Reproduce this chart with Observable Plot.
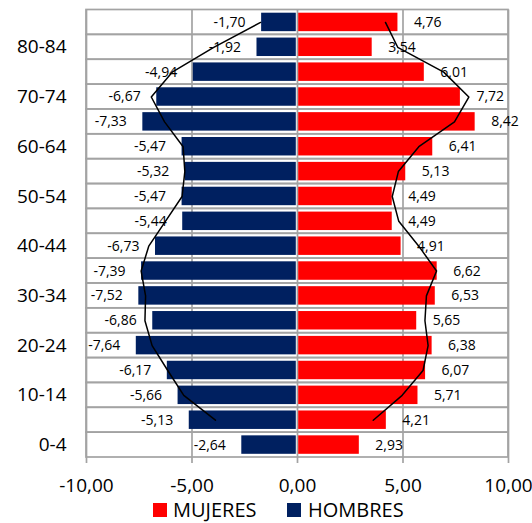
<!DOCTYPE html>
<html>
<head>
<meta charset="utf-8">
<script src="https://cdn.jsdelivr.net/npm/d3@7"></script>
<script src="https://cdn.jsdelivr.net/npm/@observablehq/plot@0.6"></script>
<style>
  body { margin: 0; background: #fff; font-family: "Open Sans", sans-serif; }
  #wrap { position: relative; width: 532px; height: 523px; overflow: hidden; }
  #wrap svg { display: block; }
  .leg { position: absolute; top: 499.5px; font-size: 20px; color: #000; line-height: 20px; white-space: nowrap; }
  .sw { position: absolute; top: 503px; width: 14px; height: 14px; }
</style>
</head>
<body>
<div id="wrap"></div>
<script>
// Age groups, youngest first
const ages = ["0-4","5-9","10-14","15-19","20-24","25-29","30-34","35-39","40-44","45-49","50-54","55-59","60-64","65-69","70-74","75-79","80-84","85+"];
// Bars (%)
const hombres = [-2.64,-5.13,-5.66,-6.17,-7.64,-6.86,-7.52,-7.39,-6.73,-5.44,-5.47,-5.32,-5.47,-7.33,-6.67,-4.94,-1.92,-1.70];
const mujeres = [2.93,4.21,5.71,6.07,6.38,5.65,6.53,6.62,4.91,4.49,4.49,5.13,6.41,8.42,7.72,6.01,3.54,4.76];
// Comparison outline lines (estimated), 5-9 .. 85+
const lineAges = ["5-9","10-14","15-19","20-24","25-29","30-34","35-39","40-44","45-49","50-54","55-59","60-64","65-69","70-74","75-79","80-84","85+"];
const hombresLinea = [-3.89,-5.39,-6.15,-6.89,-7.23,-7.20,-7.41,-7.05,-6.26,-5.47,-5.34,-5.42,-6.30,-6.93,-5.94,-3.97,-1.75];
const mujeresLinea = [3.59,4.96,5.95,6.19,6.04,6.11,6.59,5.75,4.80,4.49,4.78,5.75,7.44,8.12,6.93,4.75,4.17];
const xTicks = [-10,-5,0,5,10];
const yTickLabels = ["0-4","10-14","20-24","30-34","40-44","50-54","60-64","70-74","80-84"];

const fmt = v => (v < 0 ? "-" : "") + Math.abs(v).toFixed(2).replace(".", ",");

const hData = ages.map((a, i) => ({age: a, v: hombres[i]}));
const mData = ages.map((a, i) => ({age: a, v: mujeres[i]}));
const hLine = lineAges.map((a, i) => ({age: a, v: hombresLinea[i]}));
const mLine = lineAges.map((a, i) => ({age: a, v: mujeresLinea[i]}));

const grid = "#a3a3a3";
const chart = Plot.plot({
  width: 532,
  height: 500,
  marginLeft: 86,
  marginRight: 24,
  marginTop: 9.5,
  marginBottom: 43,
  style: {fontFamily: "Open Sans", color: "#000", background: "#fff", overflow: "visible"},
  x: {domain: [-10, 10]},
  y: {domain: ages.slice().reverse(), padding: 0, round: false},
  marks: [
    Plot.barX(ages, {x1: -10, x2: 10, y: d => d, fill: "none", stroke: grid, strokeWidth: 1.7}),
    Plot.ruleX(xTicks, {stroke: grid, strokeWidth: 1.7, insetBottom: -6}),
    Plot.barX(hData, {x: "v", y: "age", fill: "#002060", insetTop: 3.2, insetBottom: 3.2, insetRight: 1.2}),
    Plot.barX(mData, {x: "v", y: "age", fill: "#FF0000", insetTop: 3.2, insetBottom: 3.2, insetLeft: 1.2}),
    Plot.line(hLine, {x: "v", y: "age", stroke: "#000", strokeWidth: 1.5}),
    Plot.line(mLine, {x: "v", y: "age", stroke: "#000", strokeWidth: 1.5}),
    Plot.text(hData, {x: "v", y: "age", text: d => fmt(d.v), textAnchor: "end", dx: -16, fontSize: 14, fill: "#000"}),
    Plot.text(mData, {x: "v", y: "age", text: d => fmt(d.v), textAnchor: "start", dx: 16, fontSize: 14, fill: "#000"}),
    Plot.axisX({ticks: xTicks, tickFormat: fmt, tickSize: 0, tickPadding: 21, fontSize: 19, label: null}),
    Plot.axisY({ticks: yTickLabels, tickSize: 0, tickPadding: 20, fontSize: 19, label: null})
  ]
});

const wrap = document.getElementById("wrap");
wrap.appendChild(chart);
const legend = [
  {name: "MUJERES", color: "#FF0000", sx: 153, tx: 173},
  {name: "HOMBRES", color: "#002060", sx: 287, tx: 308}
];
for (const l of legend) {
  const s = document.createElement("div");
  s.className = "sw"; s.style.left = l.sx + "px"; s.style.background = l.color;
  wrap.appendChild(s);
  const t = document.createElement("div");
  t.className = "leg"; t.style.left = l.tx + "px"; t.textContent = l.name;
  wrap.appendChild(t);
}
</script>
</body>
</html>
